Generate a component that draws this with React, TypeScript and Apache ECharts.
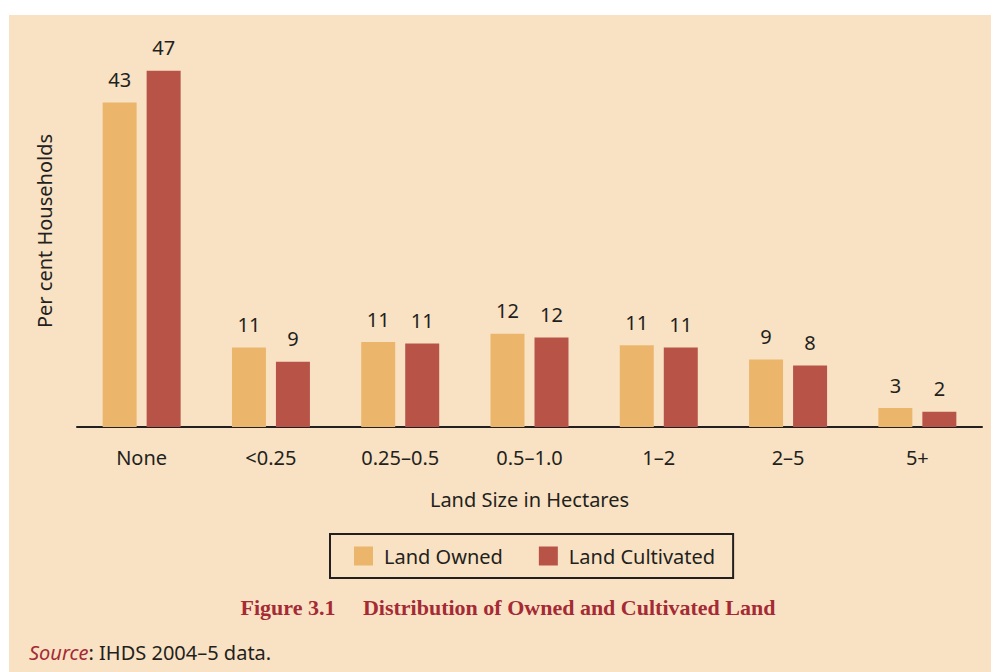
import React, { useEffect, useRef } from "react";
import * as echarts from "echarts";

const categories = ["None", "<0.25", "0.25\u20130.5", "0.5\u20131.0", "1\u20132", "2\u20135", "5+"];
const landOwned = [42.8, 10.5, 11.2, 12.3, 10.8, 8.9, 2.5];
const landCultivated = [47, 8.6, 11.0, 11.8, 10.5, 8.1, 2.0];
const seriesNames = ["Land Owned", "Land Cultivated"];
const xAxisTitle = "Land Size in Hectares";
const yAxisTitle = "Per cent Households";
const figureTitle = "Figure 3.1\u2003 Distribution of Owned and Cultivated Land";
const sourceLabel = "Source";
const sourceText = ": IHDS 2004\u20135 data.";

const BG = "#f9e2c3";
const OWNED = "#ebb66c";
const CULT = "#b85447";
const INK = "#231f20";
const RED = "#a52a35";
const FONT = "'Noto Sans', sans-serif";

export default function App() {
  const ref = useRef<HTMLDivElement>(null);
  useEffect(() => {
    if (!ref.current) return;
    const chart = echarts.init(ref.current, undefined, { renderer: "svg" });
    const label = {
      show: true,
      position: "top",
      distance: 13,
      fontFamily: FONT,
      fontSize: 20,
      color: INK,
      formatter: (p: any) => String(Math.round(p.value)),
    };
    chart.setOption({
      animation: false,
      backgroundColor: BG,
      textStyle: { fontFamily: FONT },
      grid: { left: 77, right: 9, top: 48, bottom: 245, containLabel: false },
      legend: {
        data: seriesNames,
        left: 330,
        top: 534,
        orient: "horizontal",
        icon: "rect",
        itemWidth: 19,
        itemHeight: 19,
        itemGap: 36,
        padding: [12, 18, 12, 24],
        borderColor: INK,
        borderWidth: 2,
        backgroundColor: BG,
        textStyle: { fontFamily: FONT, fontSize: 20, color: INK, padding: [0, 0, 0, 6] },
      },
      xAxis: {
        type: "category",
        data: categories,
        name: xAxisTitle,
        nameLocation: "middle",
        nameGap: 62,
        nameTextStyle: { fontFamily: FONT, fontSize: 20, color: INK },
        axisLine: { show: true, lineStyle: { color: INK, width: 2 } },
        axisTick: { show: false },
        axisLabel: { fontFamily: FONT, fontSize: 20, color: INK, margin: 20 },
      },
      yAxis: {
        type: "value",
        min: 0,
        max: 50,
        name: yAxisTitle,
        nameLocation: "middle",
        nameRotate: 90,
        nameGap: 23,
        nameTextStyle: { fontFamily: FONT, fontSize: 20, color: INK, padding: [0, 0, 0, 13] },
        axisLine: { show: false },
        axisTick: { show: false },
        axisLabel: { show: false },
        splitLine: { show: false },
      },
      series: [
        {
          name: seriesNames[0],
          type: "bar",
          data: landOwned,
          barWidth: 34,
          barGap: "29.4%",
          itemStyle: { color: OWNED },
          label,
        },
        {
          name: seriesNames[1],
          type: "bar",
          data: landCultivated,
          barWidth: 34,
          barGap: "29.4%",
          itemStyle: { color: CULT },
          label,
        },
      ],
      graphic: [
        { type: "rect", shape: { x: 0, y: 0, width: 991, height: 15 }, style: { fill: "#ffffff" }, silent: true },
        { type: "rect", shape: { x: 0, y: 0, width: 9, height: 672 }, style: { fill: "#ffffff" }, silent: true },
        {
          type: "text",
          x: 508,
          y: 607,
          style: {
            text: figureTitle,
            fontFamily: "'Liberation Serif', serif",
            fontWeight: "bold",
            fontSize: 22,
            fill: RED,
            align: "center",
            verticalAlign: "middle",
          },
        },
        {
          type: "text",
          x: 29,
          y: 652,
          style: {
            text: `{s|${sourceLabel}}{t|${sourceText}}`,
            align: "left",
            verticalAlign: "middle",
            rich: {
              s: { fontFamily: FONT, fontSize: 20, fontStyle: "italic", fill: RED, color: RED },
              t: { fontFamily: FONT, fontSize: 20, fill: INK, color: INK },
            },
          },
        },
      ],
    });
    return () => chart.dispose();
  }, []);
  return (
    <div
      ref={ref}
      style={{ position: "absolute", left: 0, top: 0, width: 991, height: 672 }}
    />
  );
}
